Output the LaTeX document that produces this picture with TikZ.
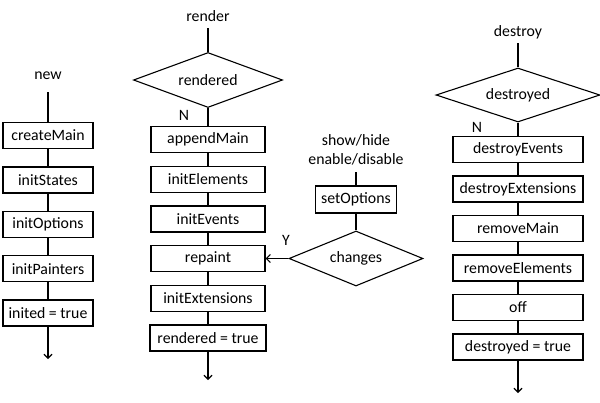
\documentclass[tikz,border=0pt]{standalone}
\usepackage{fontspec}
\setmainfont{Carlito}
\usetikzlibrary{positioning,shapes.geometric,arrows.meta}

\tikzset{
	stepbox/.style={draw,rectangle,line width=1.3pt,minimum height=26pt,inner sep=3pt},
	test/.style={draw,diamond,line width=1.1pt,inner sep=0pt,aspect=2.7},
	flow/.style={line width=1.1pt},
	flowarrow/.style={flow,-{Straight Barb[length=4pt,width=8pt]}}
}

\begin{document}
\begin{tikzpicture}[x=1pt,y=-1pt,font=\fontsize{15.8}{19}\selectfont]
	\useasboundingbox (0,0) rectangle (600,402);

	% new
	\node (new) at (48,76) {new};
	\coordinate (newtop) at (48,92);
	\node[stepbox,minimum width=90pt] (createMain) at (48,135.5) {createMain};
	\node[stepbox,minimum width=90pt] (initStates) at (48,180) {initStates};
	\node[stepbox,minimum width=90pt] (initOptions) at (48,224.3) {initOptions};
	\node[stepbox,minimum width=90pt] (initPainters) at (48,268.7) {initPainters};
	\node[stepbox,minimum width=90pt] (inited) at (48,313) {inited = true};
	\coordinate (newend) at (48,359);
	\draw[flow] (newtop) -- (createMain) -- (initStates) -- (initOptions) -- (initPainters) -- (inited);
	\draw[flowarrow] (inited) -- (newend);

	% render
	\node (render) at (208,16) {render};
	\coordinate (rendertop) at (208,28);
	\node[test,minimum width=149pt,minimum height=55pt] (rendered) at (208,80) {rendered};
	\node (renderN) at (184,115) {N};
	\node[stepbox,minimum width=114pt] (appendMain) at (208,139.5) {appendMain};
	\node[stepbox,minimum width=114pt] (initElements) at (208,179.2) {initElements};
	\node[stepbox,minimum width=114pt] (initEvents) at (208,218.9) {initEvents};
	\node[stepbox,minimum width=114pt] (repaint) at (208,258.5) {repaint};
	\node[stepbox,minimum width=114pt] (initExtensions) at (208,298.3) {initExtensions};
	\node[stepbox,minimum width=116pt] (renderedTrue) at (208,338) {rendered = true};
	\coordinate (renderend) at (208,380);
	\draw[flow] (rendertop) -- (rendered) -- (appendMain) -- (initElements) -- (initEvents) -- (repaint) -- (initExtensions) -- (renderedTrue);
	\draw[flowarrow] (renderedTrue) -- (renderend);

	% options
	\node[align=center] (show) at (356,149.5) {show/hide\\enable/disable};
	\coordinate (showtop) at (356,172);
	\node[stepbox,minimum width=81pt,minimum height=27pt] (setOptions) at (356,199.5) {setOptions};
	\node[test,minimum width=134pt,minimum height=55pt] (changes) at (356,258.5) {changes};
	\node (changesY) at (286,240) {Y};
	\draw[flow] (showtop) -- (setOptions) -- (changes);
	\draw[flowarrow] (changes.west) -- (repaint.east);

	% destroy
	\node (destroy) at (518,32) {destroy};
	\coordinate (destroytop) at (518,43);
	\node[test,aspect=3,minimum width=164pt,minimum height=54pt] (destroyed) at (518,95) {destroyed};
	\node (destroyN) at (477,127) {N};
	\node[stepbox,minimum width=130pt] (destroyEvents) at (518,149.5) {destroyEvents};
	\node[stepbox,minimum width=130pt] (destroyExtensions) at (518,189) {destroyExtensions};
	\node[stepbox,minimum width=130pt] (removeMain) at (518,228.5) {removeMain};
	\node[stepbox,minimum width=130pt] (removeElements) at (518,268) {removeElements};
	\node[stepbox,minimum width=130pt] (off) at (518,307.5) {off};
	\node[stepbox,minimum width=130pt] (destroyedTrue) at (518,347) {destroyed = true};
	\coordinate (destroyend) at (518,393);
	\draw[flow] (destroytop) -- (destroyed) -- (destroyEvents) -- (destroyExtensions) -- (removeMain) -- (removeElements) -- (off) -- (destroyedTrue);
	\draw[flowarrow] (destroyedTrue) -- (destroyend);

\end{tikzpicture}
\end{document}
